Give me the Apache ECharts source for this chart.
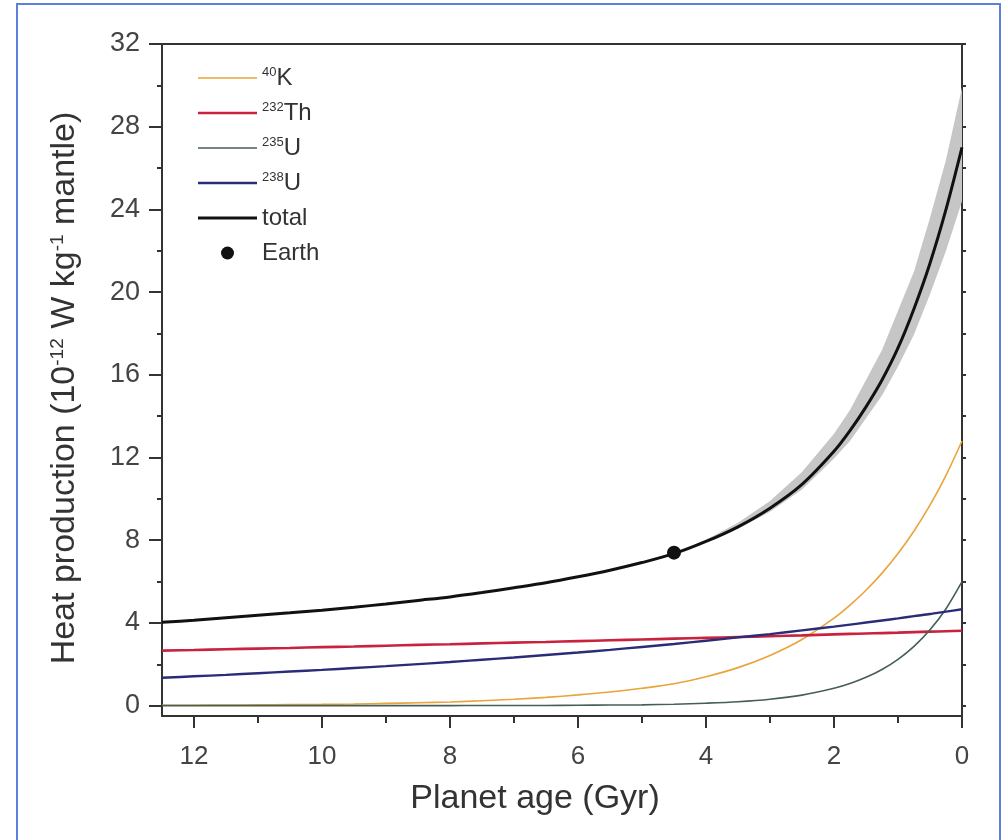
<!DOCTYPE html>
<html>
<head>
<meta charset="utf-8">
<title>Heat production vs planet age</title>
<script src="https://cdn.jsdelivr.net/npm/echarts@6/dist/echarts.min.js"></script>
<style>
  html, body { margin: 0; padding: 0; background: #fff; }
  #chart { width: 1008px; height: 840px; }
</style>
</head>
<body>
<div id="chart"></div>
<script>
// values (finer steps near 0 where the curves bend)
const ages = [0, 0.25, 0.5, 0.75, 1, 1.25, 1.5, 1.75, 2, 2.5, 3, 3.5, 4, 4.5, 5, 5.5, 6, 6.5, 7, 7.5, 8, 8.5, 9, 9.5, 10, 10.5, 11, 11.5, 12, 12.5];
const k40 = [12.8, 11.14, 9.7, 8.45, 7.36, 6.41, 5.58, 4.86, 4.23, 3.2, 2.43, 1.84, 1.4, 1.06, 0.84, 0.66, 0.52, 0.4, 0.31, 0.24, 0.18, 0.14, 0.11, 0.08, 0.06, 0.05, 0.04, 0.03, 0.02, 0.02];
const th232 = [3.62, 3.6, 3.58, 3.555, 3.53, 3.51, 3.49, 3.47, 3.45, 3.4, 3.36, 3.32, 3.28, 3.24, 3.2, 3.16, 3.12, 3.08, 3.05, 3.01, 2.97, 2.94, 2.9, 2.86, 2.83, 2.79, 2.76, 2.73, 2.69, 2.66];
const u235 = [6.0, 4.69, 3.67, 2.87, 2.24, 1.75, 1.37, 1.07, 0.84, 0.51, 0.31, 0.19, 0.12, 0.07, 0.04, 0.03, 0.02, 0.01, 0.01, 0.01, 0, 0, 0, 0, 0, 0, 0, 0, 0, 0];
const u238 = [4.66, 4.55, 4.43, 4.33, 4.22, 4.12, 4.02, 3.92, 3.82, 3.64, 3.46, 3.3, 3.14, 2.98, 2.84, 2.7, 2.57, 2.45, 2.33, 2.22, 2.11, 2.01, 1.91, 1.82, 1.73, 1.65, 1.57, 1.49, 1.42, 1.35];
const total = [27.0, 24.0, 21.4, 19.2, 17.3, 15.75, 14.45, 13.3, 12.3, 10.7, 9.55, 8.65, 7.94, 7.35, 6.92, 6.55, 6.23, 5.94, 5.7, 5.47, 5.26, 5.09, 4.92, 4.76, 4.62, 4.49, 4.37, 4.25, 4.13, 4.03];

// grey uncertainty band around total
const bandAges = [0, 0.25, 0.5, 0.75, 1, 1.25, 1.5, 1.75, 2, 2.5, 3, 3.5, 4, 4.5];
const bandLow = [24.4, 22.0, 19.9, 17.95, 16.4, 15.0, 13.9, 12.8, 11.95, 10.45, 9.38, 8.55, 7.9, 7.35];
const bandHigh = [29.9, 26.4, 23.6, 21.0, 19.1, 17.2, 15.75, 14.3, 13.15, 11.3, 9.9, 8.85, 8.03, 7.37];

const earth = [[4.5, 7.4]];

const xLabels = [0, 2, 4, 6, 8, 10, 12];
const xMinor = [1, 3, 5, 7, 9, 11];
const yLabels = [0, 4, 8, 12, 16, 20, 24, 28, 32];
const yMinor = [2, 6, 10, 14, 18, 22, 26, 30];
const yAll = [0, 2, 4, 6, 8, 10, 12, 14, 16, 18, 20, 22, 24, 26, 28, 30, 32];

const legendText = {
  K40: ['40', 'K'],
  Th232: ['232', 'Th'],
  U235: ['235', 'U'],
  U238: ['238', 'U'],
  total: ['', 'total'],
  Earth: ['', 'Earth']
};

const pairs = (xs, ys) => xs.map((x, i) => [x, ys[i]]);

const chart = echarts.init(document.getElementById('chart'), null, { renderer: 'canvas' });

const font = 'Liberation Sans, Arial, sans-serif';
const axisColor = '#333';
const X_MIN = 0, X_MAX = 12.5, Y_MIN = -0.5, Y_MAX = 32;

const baseX = {
  type: 'value', min: X_MIN, max: X_MAX, inverse: true,
  splitLine: { show: false }
};
const baseY = {
  type: 'value', min: Y_MIN, max: Y_MAX,
  splitLine: { show: false }
};

// thin bar used as legend icon for the line series
const lineIcon = (h) => 'path://M0,0H60V' + h + 'H0Z';

const option = {
  animation: false,
  backgroundColor: '#fff',
  textStyle: { fontFamily: font },
  grid: { left: 162, right: 46, top: 44, bottom: 124, containLabel: false },
  graphic: [{
    type: 'rect',
    shape: { x: 17, y: 4, width: 983, height: 860 },
    style: { fill: 'none', stroke: '#5b82d8', lineWidth: 2 },
    silent: true
  }],
  legend: {
    orient: 'vertical',
    left: 193,
    top: 61,
    itemWidth: 59,
    itemHeight: 13,
    itemGap: 11,
    data: [
      { name: 'K40', icon: lineIcon(1.6) },
      { name: 'Th232', icon: lineIcon(2.6) },
      { name: 'U235', icon: lineIcon(1.6) },
      { name: 'U238', icon: lineIcon(2.4) },
      { name: 'total', icon: lineIcon(3) },
      { name: 'Earth', icon: 'circle' }
    ],
    formatter: function (name) {
      const t = legendText[name];
      return t[0] ? '{sup|' + t[0] + '}{main|' + t[1] + '}' : '{main|' + t[1] + '}';
    },
    textStyle: {
      fontFamily: font,
      rich: {
        main: { fontSize: 24, color: '#333', fontFamily: font },
        sup: { fontSize: 13, color: '#333', verticalAlign: 'top', fontFamily: font }
      }
    }
  },
  xAxis: [
    Object.assign({}, baseX, {
      position: 'bottom',
      name: 'Planet age (Gyr)',
      nameLocation: 'middle',
      nameGap: 66,
      nameTextStyle: { fontSize: 34, color: '#333', fontFamily: font, padding: [0, 54, 0, 0] },
      axisLine: { onZero: false, lineStyle: { color: axisColor, width: 2 } },
      axisTick: { show: true, length: 12, customValues: xLabels, lineStyle: { color: axisColor, width: 2 } },
      axisLabel: { customValues: xLabels, fontSize: 26, color: '#444', margin: 28, fontFamily: font }
    }),
    Object.assign({}, baseX, {
      position: 'bottom',
      axisLine: { show: false, onZero: false },
      axisTick: { show: true, length: 7, customValues: xMinor, lineStyle: { color: axisColor, width: 2 } },
      axisLabel: { show: false }
    }),
    Object.assign({}, baseX, {
      position: 'top',
      axisLine: { show: true, onZero: false, lineStyle: { color: axisColor, width: 2 } },
      axisTick: { show: false },
      axisLabel: { show: false }
    })
  ],
  yAxis: [
    Object.assign({}, baseY, {
      position: 'left',
      name: '{t|Heat production (10}{s|-12}{t| W kg}{s|-1}{t| mantle)}',
      nameLocation: 'middle',
      nameGap: 80,
      nameRotate: 90,
      nameTextStyle: {
        color: '#333',
        padding: [0, 16, 0, 0],
        rich: {
          t: { fontSize: 34, color: '#333', fontFamily: font },
          s: { fontSize: 19, color: '#333', verticalAlign: 'top', fontFamily: font }
        }
      },
      axisLine: { show: true, onZero: false, lineStyle: { color: axisColor, width: 2 } },
      axisTick: { show: true, length: 13, customValues: yLabels, lineStyle: { color: axisColor, width: 2 } },
      axisLabel: { customValues: yLabels, fontSize: 27, color: '#444', margin: 22, fontFamily: font }
    }),
    Object.assign({}, baseY, {
      position: 'left',
      axisLine: { show: false, onZero: false },
      axisTick: { show: true, length: 5, customValues: yMinor, lineStyle: { color: axisColor, width: 2 } },
      axisLabel: { show: false }
    }),
    Object.assign({}, baseY, {
      position: 'right',
      axisLine: { show: true, onZero: false, lineStyle: { color: axisColor, width: 2 } },
      axisTick: { show: true, length: 4, customValues: yAll, lineStyle: { color: axisColor, width: 2 } },
      axisLabel: { show: false }
    })
  ],
  series: [
    {
      name: 'band', type: 'custom',
      data: bandAges.map((x, i) => [x, bandLow[i], bandHigh[i]]),
      encode: { x: 0, y: [1, 2] },
      clip: true,
      silent: true, z: 1,
      renderItem: function (params, api) {
        if (params.dataIndex !== 0) return null;
        const upper = bandAges.map((x, i) => api.coord([x, bandHigh[i]]));
        const lower = bandAges.map((x, i) => api.coord([x, bandLow[i]])).reverse();
        return {
          type: 'polygon',
          shape: { points: upper.concat(lower) },
          style: { fill: '#c6c6c6', stroke: 'none' }
        };
      }
    },
    {
      name: 'K40', type: 'line', smooth: 0.3, symbol: 'none',
      data: pairs(ages, k40),
      lineStyle: { color: '#e9a43c', width: 1.6 },
      itemStyle: { color: '#e9a43c' }, z: 3
    },
    {
      name: 'Th232', type: 'line', smooth: 0.3, symbol: 'none',
      data: pairs(ages, th232),
      lineStyle: { color: '#c8223f', width: 2.6 },
      itemStyle: { color: '#c8223f' }, z: 3
    },
    {
      name: 'U235', type: 'line', smooth: 0.3, symbol: 'none',
      data: pairs(ages, u235),
      lineStyle: { color: '#465f55', width: 1.6 },
      itemStyle: { color: '#465f55' }, z: 3
    },
    {
      name: 'U238', type: 'line', smooth: 0.3, symbol: 'none',
      data: pairs(ages, u238),
      lineStyle: { color: '#2a2c78', width: 2.4 },
      itemStyle: { color: '#2a2c78' }, z: 3
    },
    {
      name: 'total', type: 'line', smooth: 0.3, symbol: 'none',
      data: pairs(ages, total),
      lineStyle: { color: '#111', width: 3 },
      itemStyle: { color: '#111' }, z: 4
    },
    {
      name: 'Earth', type: 'scatter',
      data: earth,
      symbol: 'circle', symbolSize: 14,
      itemStyle: { color: '#111', opacity: 1 }, z: 5
    }
  ]
};

chart.setOption(option);
</script>
</body>
</html>
